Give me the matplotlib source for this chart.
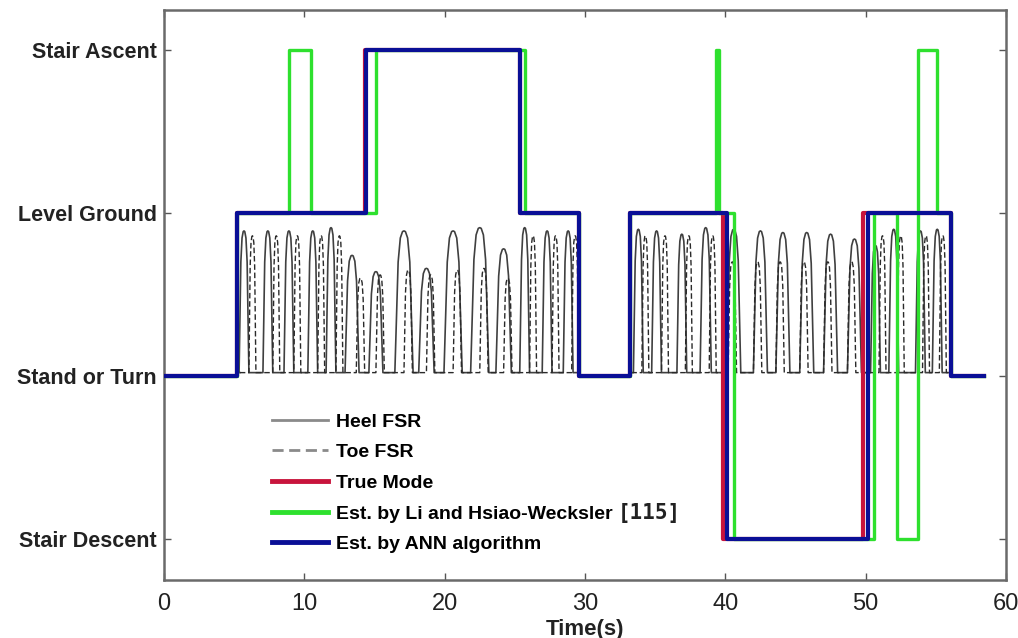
import numpy as np
import matplotlib
matplotlib.use("Agg")
import matplotlib.pyplot as plt

# locomotion modes on the y axis
mode_names = ["Stair Descent", "Stand or Turn", "Level Ground", "Stair Ascent"]
mode_levels = [1, 2, 3, 4]

# mode sequences (switch times in s, mode level after the switch)
true_t = [0, 5.2, 14.3, 25.4, 29.6, 33.2, 39.8, 49.8, 56.1, 58.4]
true_m = [2, 3, 4, 3, 2, 3, 1, 3, 2, 2]

li_t = [0, 5.2, 8.9, 10.5, 15.1, 25.7, 29.6, 33.2, 39.35, 39.55, 40.6, 50.6, 52.2, 53.7, 55.1, 56.1, 58.4]
li_m = [2, 3, 4, 3, 4, 3, 2, 3, 4, 3, 1, 3, 1, 4, 3, 2, 2]

ann_t = [0, 5.2, 14.4, 25.4, 29.6, 33.2, 40.1, 50.2, 56.1, 58.4]
ann_m = [2, 3, 4, 3, 2, 3, 1, 3, 2, 2]

# FSR pulses: centre (s), base width (s), peak level
heel_c = [5.7, 7.4, 8.9, 10.6, 11.9, 13.4, 15.1, 17.1, 18.7, 20.6, 22.5, 24.2, 25.7, 27.3, 28.8,
          33.8, 35.1, 36.9, 38.6, 40.6, 42.5, 44.1, 45.8, 47.5, 49.2, 50.7, 52.0, 53.9, 55.1]
heel_w = [0.7, 0.7, 0.7, 0.7, 0.7, 1.0, 1.0, 1.3, 1.1, 1.3, 1.3, 1.1, 0.7, 0.7, 0.7,
          0.7, 0.7, 0.7, 0.8, 1.0, 1.0, 1.0, 1.0, 1.0, 1.0, 0.7, 0.7, 0.7, 0.7]
heel_h = [2.89, 2.89, 2.89, 2.89, 2.91, 2.74, 2.64, 2.89, 2.66, 2.89, 2.91, 2.78, 2.91, 2.89, 2.89,
          2.90, 2.89, 2.87, 2.91, 2.90, 2.89, 2.88, 2.88, 2.87, 2.84, 2.80, 2.90, 2.89, 2.90]

toe_c = [6.3, 8.0, 9.5, 11.2, 12.5, 14.0, 15.4, 17.4, 19.0, 20.9, 22.8, 24.5, 26.3, 27.9, 29.3,
         34.3, 35.7, 37.4, 39.1, 40.5, 42.3, 43.9, 45.6, 47.3, 49.0, 51.2, 52.5, 54.3, 55.5]
toe_w = [0.5, 0.5, 0.5, 0.5, 0.5, 0.6, 0.6, 0.6, 0.6, 0.6, 0.6, 0.6, 0.5, 0.5, 0.5,
         0.5, 0.5, 0.5, 0.5, 0.6, 0.6, 0.6, 0.6, 0.6, 0.6, 0.5, 0.5, 0.5, 0.5]
toe_h = [2.86, 2.86, 2.86, 2.86, 2.86, 2.60, 2.62, 2.65, 2.62, 2.65, 2.66, 2.60, 2.86, 2.86, 2.86,
         2.86, 2.86, 2.86, 2.86, 2.70, 2.70, 2.70, 2.70, 2.70, 2.70, 2.86, 2.86, 2.86, 2.86]

fsr_base = 2.02
fsr_segments = [(5.4, 29.5), (33.3, 56.0)]

# normalised arch outline used for each pulse
arch_u = [0, 0.08, 0.18, 0.3, 0.42, 0.5, 0.58, 0.7, 0.82, 0.92, 1.0]
arch_v = [0, 0.35, 0.78, 0.95, 0.995, 1.0, 0.995, 0.95, 0.78, 0.35, 0]


def pulse_train(centres, widths, heights, start, end):
    xs, ys = [start], [fsr_base]
    for c, w, h in zip(centres, widths, heights):
        if c < start or c > end:
            continue
        for u, v in zip(arch_u, arch_v):
            xs.append(c - w / 2 + u * w)
            ys.append(fsr_base + (h - fsr_base) * v)
    xs.append(end)
    ys.append(fsr_base)
    return xs, ys


plt.rcParams['font.family'] = ['Liberation Sans', 'DejaVu Sans']

fig = plt.figure(figsize=(10.18, 6.38), dpi=100)
ax = fig.add_axes([164 / 1018, 1 - 580 / 638, (1006 - 164) / 1018, (580 - 10) / 638])

heel_color = '#404040'
toe_color = '#2a2a2a'
for i, (s, e) in enumerate(fsr_segments):
    hx, hy = pulse_train(heel_c, heel_w, heel_h, s, e)
    tx, ty = pulse_train(toe_c, toe_w, toe_h, s, e)
    ax.plot(hx, hy, color=heel_color, lw=1.2, zorder=2,
            label='Heel FSR' if i == 0 else None)
    ax.plot(tx, ty, color=toe_color, lw=1.0, ls=(0, (4, 2)), zorder=2,
            label='Toe FSR' if i == 0 else None)

ax.plot(true_t, true_m, drawstyle='steps-post', color='#c8143c', lw=3.0, zorder=3, label='True Mode')
ax.plot(li_t, li_m, drawstyle='steps-post', color='#2ee02e', lw=2.4, zorder=4,
        label='Est. by Li and Hsiao-Wecksler')
ax.plot(ann_t, ann_m, drawstyle='steps-post', color='#0a0f96', lw=3.0, zorder=5,
        label='Est. by ANN algorithm')

ax.set_xlim(0, 60)
ax.set_ylim(0.747, 4.246)
ax.set_xticks(np.arange(0, 61, 10))
ax.set_yticks(mode_levels)
ax.set_yticklabels(mode_names, fontsize=15.5, fontweight='bold', color='#222222')
for lab in ax.get_xticklabels():
    lab.set_fontsize(17)
    lab.set_color('#222222')
ax.set_xlabel('Time(s)', fontsize=16, fontweight='bold', color='#222222', labelpad=3)
ax.tick_params(direction='in', length=5, width=1, color='#555555', top=True, right=True)
ax.tick_params(axis='y', pad=5)
ax.tick_params(axis='x', pad=9)
for sp in ax.spines.values():
    sp.set_color('#6a6a6a')
    sp.set_linewidth(1.8)

handles, labels = ax.get_legend_handles_labels()
leg = ax.legend(handles, labels, loc='upper left', bbox_to_anchor=(272 / 1018, 1 - 413 / 638),
                bbox_transform=fig.transFigure, frameon=False, handlelength=2.9,
                handletextpad=0.4, labelspacing=0.67, borderpad=0, borderaxespad=0,
                prop={'size': 14, 'weight': 'bold'})
for line in leg.get_lines():
    line.set_linewidth(3.5 if line.get_linestyle() == '-' and line.get_color() != heel_color else 2.0)
leg.get_lines()[0].set_color('#8a8a8a')
leg.get_lines()[1].set_color('#8a8a8a')

# citation tag after the Li and Hsiao-Wecksler entry, in its own typeface
fig.canvas.draw()
bb = leg.get_texts()[3].get_window_extent()
fig.text((bb.x1 + 5) / 1018, (bb.y0 + bb.y1) / 2 / 638 + 1 / 638, '[115]', family='DejaVu Sans Mono',
         fontweight='bold', fontsize=15, color='#222222', va='center', ha='left')

fig.savefig('out.png', dpi=100)
